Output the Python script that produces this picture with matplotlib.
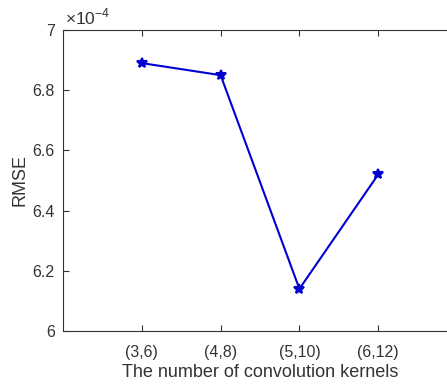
import matplotlib
matplotlib.use("Agg")
import matplotlib.pyplot as plt

categories = ["(3,6)", "(4,8)", "(5,10)", "(6,12)"]
rmse = [6.89, 6.85, 6.14, 6.52]  # x 1e-4
yticks = [6, 6.2, 6.4, 6.6, 6.8, 7]
ytick_labels = ["6", "6.2", "6.4", "6.6", "6.8", "7"]

plt.rcParams['font.family'] = ['Liberation Sans', 'DejaVu Sans']
W, H = 447, 384
fig = plt.figure(figsize=(W/100, H/100), dpi=100)
ax = fig.add_axes([63/W, (H-331)/H, (457-63)/W, (331-30)/H])

gray = (0.2, 0.2, 0.2)
xs = list(range(1, len(categories)+1))
ax.plot(xs, rmse, color='#0000D0', lw=1.5, marker='*', ms=7, mew=1.5)
ax.set_xlim(0, 5)
ax.set_ylim(6, 7)
ax.set_xticks(xs)
ax.set_xticklabels(categories)
ax.set_yticks(yticks)
ax.set_yticklabels(ytick_labels)
ax.tick_params(direction='in', length=4, width=0.8, colors=gray, labelsize=11.5, top=True, right=True)
ax.tick_params(axis='x', pad=10)
ax.tick_params(axis='y', pad=6)
for s in ax.spines.values():
    s.set_color(gray)
    s.set_linewidth(0.8)
ax.set_xlabel("The number of convolution kernels", fontsize=13, color=gray, labelpad=3)
ax.set_ylabel("RMSE", fontsize=13, color=gray, labelpad=3)
ax.text(0.005, 1.01, "×10$^{\\mathregular{-4}}$", transform=ax.transAxes, fontsize=12.5, color=gray, ha='left', va='bottom')

fig.savefig("out.png", dpi=100)
